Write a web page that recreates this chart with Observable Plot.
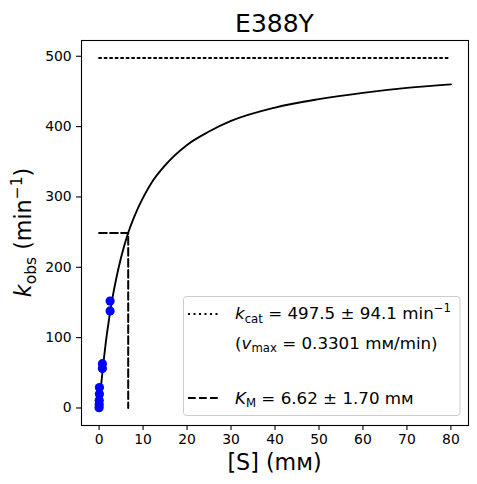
<!DOCTYPE html>
<html><head><meta charset="utf-8">
<script src="https://cdn.jsdelivr.net/npm/d3@7"></script>
<script src="https://cdn.jsdelivr.net/npm/@observablehq/plot@0.6"></script>
<style>body{margin:0;background:white;} svg{display:block;}</style>
</head><body>
<div id="chart"></div>
<script>
const S_obs = [2.5, 2.5, 0.75, 0.75, 0.08, 0.08, 0.03, 0.03, 0];
const k_obs = [152, 138, 63, 56, 29, 20, 11, 5, 0.5];
// Fitted curve
const fitS = [0, 0.5, 1, 1.5, 2, 3, 4, 5, 6.62, 8, 10, 12, 15, 20, 25, 30, 40, 50, 60, 70, 80];
const fitK = [0, 35, 65, 92, 115, 155, 187, 214, 249, 272, 299, 321, 345, 374, 393, 408, 427, 439, 448, 455, 460];
// Fit parameters
const kcat = 497.5, kcatErr = 94.1, vmax = 0.3301, KM = 6.62, KMErr = 1.70;
const sRange = [0, 80];
const xTicks = [0, 10, 20, 30, 40, 50, 60, 70, 80];
const yTicks = [0, 100, 200, 300, 400, 500];
const title = "E388Y";
const unit = "m\u1D0D";

const points = S_obs.map((s, i) => ({s, k: k_obs[i]}));
const fit = fitS.map((s, i) => ({s, k: fitK[i]}));
const kcatLine = sRange.map(s => ({s, k: kcat}));
const kmLine = [{s: 0, k: kcat / 2}, {s: KM, k: kcat / 2}, {s: KM, k: 0}];

const plot = Plot.plot({
  width: 477, height: 484,
  marginLeft: 81, marginRight: 9, marginTop: 40, marginBottom: 59,
  style: {fontFamily: "DejaVu Sans", fontSize: "13.9px", background: "white", color: "black"},
  x: {domain: [-4, 84]},
  y: {domain: [-24.9, 522.4]},
  marks: [
    Plot.axisX({ticks: xTicks, tickSize: 4.9, tickPadding: 4, label: null, fontSize: 13.9, strokeWidth: 1.1}),
    Plot.axisY({ticks: yTicks, tickSize: 4.9, tickPadding: 4.9, label: null, fontSize: 13.9, strokeWidth: 1.1}),
    Plot.line(kcatLine, {x: "s", y: "k", stroke: "black", strokeWidth: 2, strokeDasharray: "2 3.5"}),
    Plot.line(kmLine, {x: "s", y: "k", stroke: "black", strokeWidth: 2, strokeDasharray: "7.7 3.33"}),
    Plot.line(fit, {x: "s", y: "k", curve: "monotone-x", stroke: "black", strokeWidth: 1.9}),
    Plot.dot(points, {x: "s", y: "k", r: 4.6, fill: "blue", stroke: "none"}),
    Plot.frame({stroke: "black", strokeWidth: 1.1})
  ]
});
document.getElementById("chart").appendChild(plot);

const svg = d3.select(plot);
const F = "DejaVu Sans";
// Title
svg.append("text").attr("x", 274.5).attr("y", 31.5).attr("text-anchor", "middle")
  .attr("font-family", F).attr("font-size", 25).attr("fill", "black").text(title);
// X label
svg.append("text").attr("x", 274.5).attr("y", 470).attr("text-anchor", "middle")
  .attr("font-family", F).attr("font-size", 22.2).attr("fill", "black").text(`[S] (${unit})`);
// Y label
const yl = svg.append("text").attr("transform", "translate(31,232.5) rotate(-90)")
  .attr("text-anchor", "middle").attr("font-family", F).attr("font-size", 22.2).attr("fill", "black");
yl.append("tspan").attr("font-style", "italic").text("k");
yl.append("tspan").attr("font-size", 15.5).attr("dy", 4.5).text("obs");
yl.append("tspan").attr("dy", -4.5).text(" (min");
yl.append("tspan").attr("font-size", 15.5).attr("dy", -9).text("\u22121");
yl.append("tspan").attr("dy", 9).text(")");

// Legend
const lg = svg.append("g").attr("text-anchor", "start");
lg.append("rect").attr("x", 183.5).attr("y", 296.5).attr("width", 276.5).attr("height", 119)
  .attr("rx", 3).attr("fill", "white").attr("fill-opacity", 0.8).attr("stroke", "#cccccc").attr("stroke-width", 1);
lg.append("line").attr("x1", 188).attr("x2", 221).attr("y1", 314).attr("y2", 314)
  .attr("stroke", "black").attr("stroke-width", 2).attr("stroke-dasharray", "2 3.5");
lg.append("line").attr("x1", 188).attr("x2", 221).attr("y1", 398).attr("y2", 398)
  .attr("stroke", "black").attr("stroke-width", 2).attr("stroke-dasharray", "7.7 3.33");
const fs = 16.7, sub = 11.7;
const t1 = lg.append("text").attr("x", 235).attr("y", 319).attr("text-anchor", "start").attr("font-family", F).attr("font-size", fs).attr("fill", "black");
t1.append("tspan").attr("font-style", "italic").text("k");
t1.append("tspan").attr("font-size", sub).attr("dy", 3.5).text("cat");
t1.append("tspan").attr("dy", -3.5).text(` = ${kcat.toFixed(1)} \u00B1 ${kcatErr.toFixed(1)} min`);
t1.append("tspan").attr("font-size", sub).attr("dy", -7).text("\u22121");
const t2 = lg.append("text").attr("x", 235).attr("y", 348.5).attr("text-anchor", "start").attr("font-family", F).attr("font-size", fs).attr("fill", "black");
t2.append("tspan").text("(");
t2.append("tspan").attr("font-style", "italic").text("v");
t2.append("tspan").attr("font-size", sub).attr("dy", 3.5).text("max");
t2.append("tspan").attr("dy", -3.5).text(` = ${vmax.toFixed(4)} ${unit}/min)`);
const t3 = lg.append("text").attr("x", 235).attr("y", 403.5).attr("text-anchor", "start").attr("font-family", F).attr("font-size", fs).attr("fill", "black");
t3.append("tspan").attr("font-style", "italic").text("K");
t3.append("tspan").attr("font-size", sub).attr("dy", 3.5).text("M");
t3.append("tspan").attr("dy", -3.5).text(` = ${KM.toFixed(2)} \u00B1 ${KMErr.toFixed(2)} ${unit}`);
</script>
</body></html>
